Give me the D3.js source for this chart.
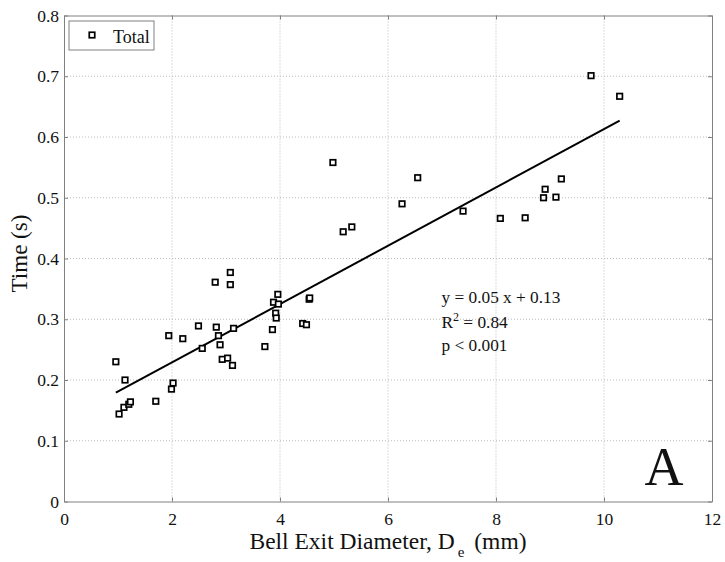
<!DOCTYPE html>
<html>
<head>
<meta charset="utf-8">
<script src="https://cdn.jsdelivr.net/npm/d3@7"></script>
<style>
  body { margin: 0; background: #fff; }
  svg text { font-family: "Liberation Serif", "Times New Roman", serif; fill: #111; }
</style>
</head>
<body>
<div id="chart"></div>
<script>
// Bell exit diameter (mm) vs time (s)
const diameter = [0.96, 1.13, 1.02, 1.11, 1.20, 1.23, 1.70, 1.94, 2.02, 1.99,
  2.20, 2.49, 2.56, 2.80, 2.82, 2.86, 2.89, 2.93, 3.03, 3.12,
  3.08, 3.08, 3.14, 3.72, 3.86, 3.88, 3.96, 3.97, 3.92, 3.93,
  4.42, 4.49, 4.54, 4.55, 4.98, 5.17, 5.33, 6.26, 6.55, 7.39,
  8.08, 8.54, 8.88, 8.91, 9.11, 9.21, 9.76, 10.29];
const time = [0.230, 0.200, 0.144, 0.155, 0.160, 0.164, 0.165, 0.273, 0.195, 0.185,
  0.268, 0.289, 0.252, 0.361, 0.287, 0.273, 0.258, 0.234, 0.236, 0.224,
  0.377, 0.357, 0.285, 0.255, 0.283, 0.328, 0.341, 0.325, 0.310, 0.302,
  0.293, 0.291, 0.333, 0.335, 0.558, 0.444, 0.452, 0.490, 0.533, 0.478,
  0.466, 0.467, 0.500, 0.514, 0.501, 0.531, 0.701, 0.667];

// Linear fit as drawn: y = 0.048 x + 0.133
const fitSlope = 0.048;
const fitIntercept = 0.133;
const fitLabels = ["y = 0.05 x + 0.13", "R2 = 0.84", "p < 0.001"];

const xTicks = [0, 2, 4, 6, 8, 10, 12];
const yTicks = [0, 0.1, 0.2, 0.3, 0.4, 0.5, 0.6, 0.7, 0.8];

const svgWidth = 725;
const svgHeight = 562;
const margin = { top: 15.5, right: 13, bottom: 60.5, left: 64 };
const width = svgWidth - margin.left - margin.right;
const height = svgHeight - margin.top - margin.bottom;

const svg = d3.select("#chart").append("svg")
  .attr("width", svgWidth)
  .attr("height", svgHeight);

const g = svg.append("g")
  .attr("transform", `translate(${margin.left},${margin.top})`);

const x = d3.scaleLinear().domain([0, 12]).range([0, width]);
const y = d3.scaleLinear().domain([0, 0.8]).range([height, 0]);

// dotted grid
g.append("g").selectAll("line").data(xTicks.slice(1, -1)).join("line")
  .attr("x1", d => x(d)).attr("x2", d => x(d))
  .attr("y1", 0).attr("y2", height)
  .attr("stroke", "#bbb").attr("stroke-width", 1).attr("stroke-dasharray", "1,2");
g.append("g").selectAll("line").data(yTicks.slice(1, -1)).join("line")
  .attr("y1", d => y(d)).attr("y2", d => y(d))
  .attr("x1", 0).attr("x2", width)
  .attr("stroke", "#bbb").attr("stroke-width", 1).attr("stroke-dasharray", "1,2");

// axes with inward ticks on all sides
function styleAxis(sel) {
  sel.select(".domain").attr("stroke", "#808080");
  sel.selectAll(".tick line").attr("stroke", "#808080");
  sel.selectAll("text").attr("font-size", 17.5).attr("fill", "#111")
    .style("font-family", '"Liberation Serif", serif');
}
g.append("g").attr("transform", `translate(0,${height})`)
  .call(d3.axisBottom(x).tickValues(xTicks).tickSize(-4).tickSizeOuter(0).tickPadding(11))
  .call(styleAxis);
g.append("g")
  .call(d3.axisLeft(y).tickValues(yTicks).tickFormat(d => d === 0 ? "0" : d3.format(".1f")(d))
    .tickSize(-4).tickSizeOuter(0).tickPadding(5))
  .call(styleAxis);
g.append("g")
  .call(d3.axisTop(x).tickValues(xTicks).tickSize(-4).tickSizeOuter(0).tickFormat(""))
  .call(styleAxis);
g.append("g").attr("transform", `translate(${width},0)`)
  .call(d3.axisRight(y).tickValues(yTicks).tickSize(-4).tickSizeOuter(0).tickFormat(""))
  .call(styleAxis);

// regression line across the data range
const xFit = d3.extent(diameter);
g.append("line")
  .attr("x1", x(xFit[0])).attr("y1", y(fitSlope * xFit[0] + fitIntercept))
  .attr("x2", x(xFit[1])).attr("y2", y(fitSlope * xFit[1] + fitIntercept))
  .attr("stroke", "#000").attr("stroke-width", 2);

// square markers
const s = 5.5;
g.append("g").selectAll("rect").data(diameter).join("rect")
  .attr("x", (d, i) => x(d) - s / 2)
  .attr("y", (d, i) => y(time[i]) - s / 2)
  .attr("width", s).attr("height", s)
  .attr("fill", "#fff").attr("stroke", "#000").attr("stroke-width", 1.7);

// fit annotation
const ann = g.append("g").attr("transform", `translate(${441.5 - margin.left},${302.5 - margin.top})`);
ann.append("text").attr("font-size", 17.3).text(fitLabels[0]);
const r2 = ann.append("text").attr("y", 25).attr("font-size", 17.3);
r2.append("tspan").text("R");
r2.append("tspan").attr("dy", -7).attr("font-size", 12).text("2");
r2.append("tspan").attr("dy", 7).text(" = 0.84");
ann.append("text").attr("y", 48.5).attr("font-size", 17.3).text(fitLabels[2]);

// panel letter
g.append("text")
  .attr("x", 664 - margin.left).attr("y", 484.5 - margin.top)
  .attr("text-anchor", "middle").attr("font-size", 54).text("A");

// legend
const legend = g.append("g").attr("transform", `translate(${69 - margin.left},${21 - margin.top})`);
legend.append("rect").attr("width", 85).attr("height", 29)
  .attr("fill", "#fff").attr("stroke", "#808080").attr("stroke-width", 1);
legend.append("rect").attr("x", 23 - s / 2).attr("y", 14 - s / 2)
  .attr("width", s).attr("height", s)
  .attr("fill", "#fff").attr("stroke", "#000").attr("stroke-width", 1.7);
legend.append("text").attr("x", 44).attr("y", 21.5).attr("font-size", 18).text("Total");

// axis labels
const xl = svg.append("text")
  .attr("x", 388).attr("y", 549)
  .attr("text-anchor", "middle").attr("font-size", 23.5);
xl.append("tspan").text("Bell Exit Diameter, D");
xl.append("tspan").attr("dx", 3).attr("dy", 8).attr("font-size", 15).text("e");
xl.append("tspan").attr("dx", 4).attr("dy", -8).text(" (mm)");

svg.append("text")
  .attr("transform", `translate(27,${margin.top + height / 2 - 5}) rotate(-90)`)
  .attr("text-anchor", "middle").attr("font-size", 23).text("Time (s)");
</script>
</body>
</html>
